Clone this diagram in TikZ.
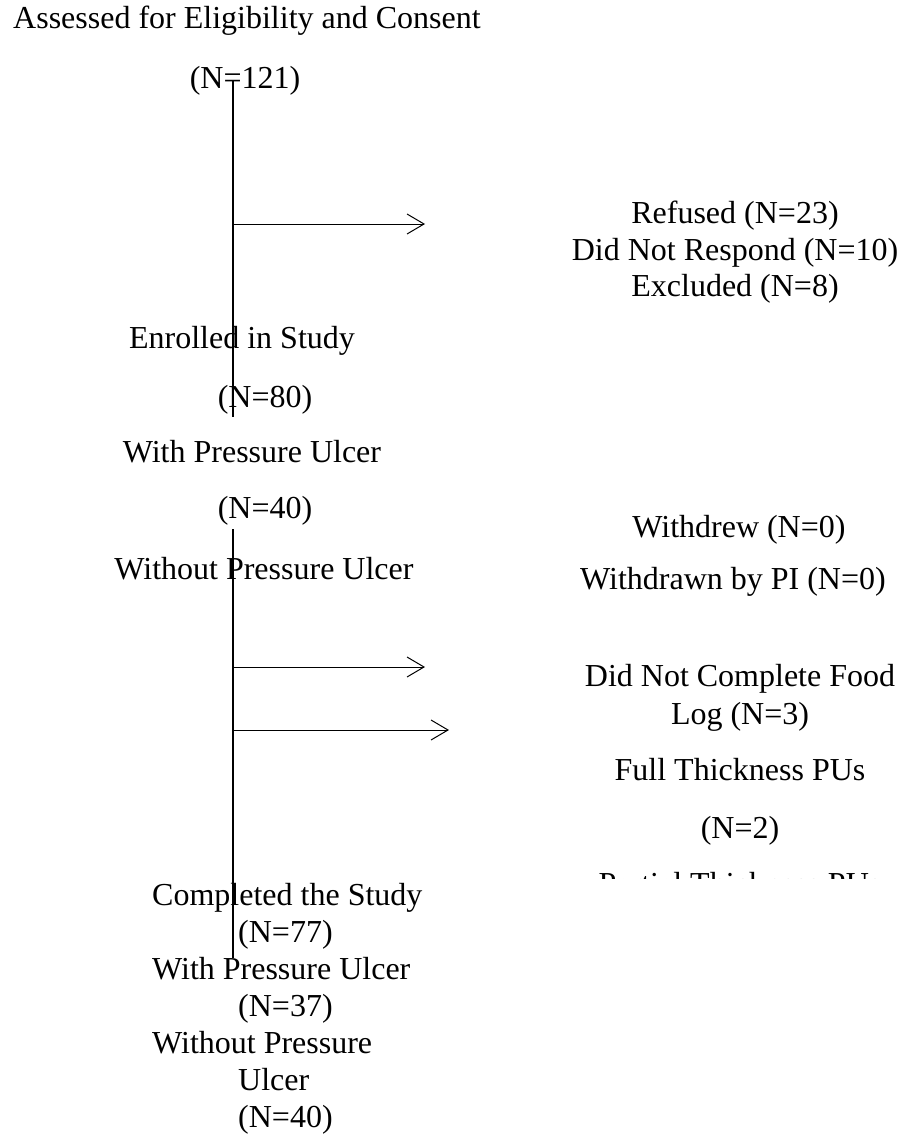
\documentclass[tikz,border=0pt]{standalone}
\usepackage{fontspec}
\setmainfont{Liberation Serif}
\usetikzlibrary{arrows.meta}

\begin{document}
\begin{tikzpicture}[x=1pt, y=-1pt,
		every node/.style={font=\fontsize{32}{37}\selectfont, inner sep=0pt, anchor=base},
		trunk/.style={line width=1.6pt},
		branch/.style={line width=1pt, -{Straight Barb[length=17pt,width=20pt]}}]
			\useasboundingbox (0,0) rectangle (907,1135);
			
			\node (1) [anchor=base west] at (13,28) {Assessed for Eligibility and Consent}; 
			\node (2) [] at (245,88) {(N=121)}; 
			\node (3) [] at (242,348) {Enrolled in Study}; 
			\node (4) [] at (265,407) {(N=80)}; 
			\node (5) [] at (252,462) {With Pressure Ulcer}; 
			\node (6) [] at (265,518) {(N=40)}; 
			\node (7) [] at (264,579) {Without Pressure Ulcer}; 
			
			\node (8) [] at (735,223) {Refused (N=23)}; 
			\node (9) [] at (735,260) {Did Not Respond (N=10)}; 
			\node (10) [] at (735,296) {Excluded (N=8)}; 
			\node (11) [] at (739,537) {Withdrew (N=0)}; 
			\node (12) [] at (733,589) {Withdrawn by PI (N=0)}; 
			\node (13) [] at (740,686) {Did Not Complete Food}; 
			\node (14) [] at (740,724) {Log (N=3)}; 
			\node (15) [] at (740,780) {Full Thickness PUs}; 
			\node (16) [] at (740,838) {(N=2)}; 
			\begin{scope}
				\clip (500,860) rectangle (907,878);
				\node (17) [] at (740,894) {Partial Thickness PUs}; 
			\end{scope}
			
			\node (18) [anchor=base west] at (152,905) {Completed the Study}; 
			\node (19) [anchor=base west] at (238,942) {(N=77)}; 
			\node (20) [anchor=base west] at (152,979) {With Pressure Ulcer}; 
			\node (21) [anchor=base west] at (238,1016) {(N=37)}; 
			\node (22) [anchor=base west] at (152,1053) {Without Pressure}; 
			\node (23) [anchor=base west] at (238,1090) {Ulcer}; 
			\node (24) [anchor=base west] at (238,1127) {(N=40)}; 
			
			\coordinate (t1) at (233,80);
			\coordinate (e1) at (233,417);
			\coordinate (t2) at (233,529);
			\coordinate (e2) at (233,958);
			\coordinate (s1) at (233,224);
			\coordinate (h1) at (425,224);
			\coordinate (s2) at (233,667);
			\coordinate (h2) at (425,667);
			\coordinate (s3) at (233,730);
			\coordinate (h3) at (449,730);
			
			\draw[trunk] (t1) -- (e1);
			\draw[trunk] (t2) -- (e2);
			\draw[branch] (s1) -- (h1);
			\draw[branch] (s2) -- (h2);
			\draw[branch] (s3) -- (h3);
		\end{tikzpicture}
\end{document}
